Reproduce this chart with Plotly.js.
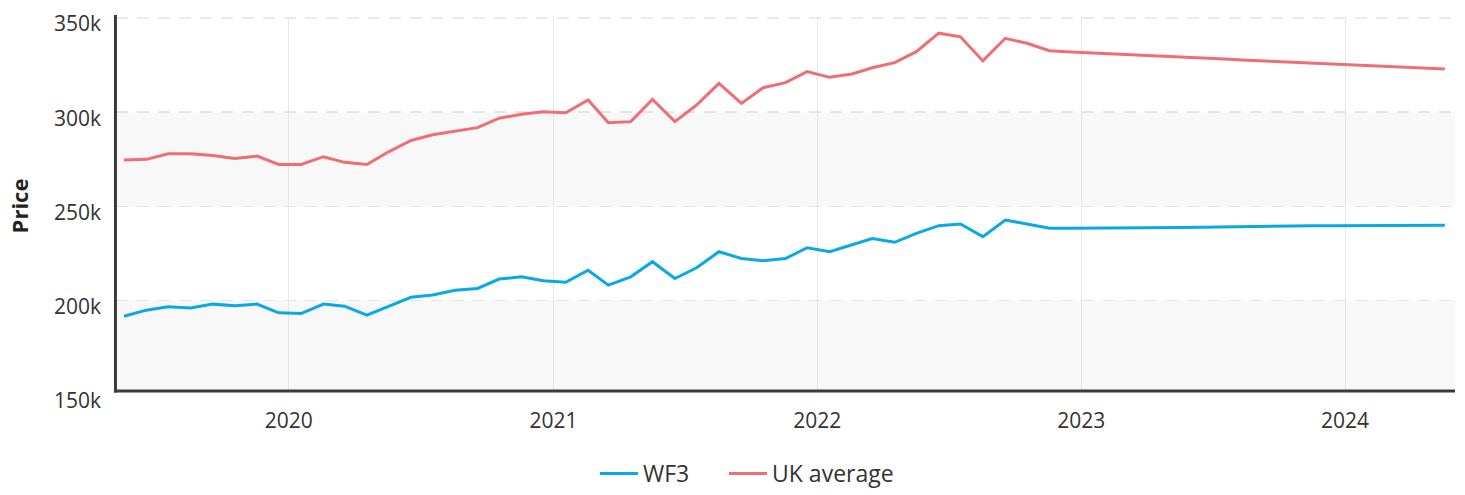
<!DOCTYPE html>
<html>
<head>
<meta charset="utf-8">
<script src="https://cdn.plot.ly/plotly-3.0.1.min.js"></script>
<style>html,body{margin:0;padding:0;background:#fff;}#chart{width:1465px;height:495px;}</style>
</head>
<body>
<div id="chart"></div>
<script>
var dates = [
  '2019-05-18','2019-06-18','2019-07-18','2019-08-18','2019-09-18','2019-10-18','2019-11-18','2019-12-18',
  '2020-01-18','2020-02-18','2020-03-18','2020-04-18','2020-05-18','2020-06-18','2020-07-18','2020-08-18','2020-09-18','2020-10-18','2020-11-18','2020-12-18',
  '2021-01-18','2021-02-18','2021-03-18','2021-04-18','2021-05-18','2021-06-18','2021-07-18','2021-08-18','2021-09-18','2021-10-18','2021-11-18','2021-12-18',
  '2022-01-18','2022-02-18','2022-03-18','2022-04-18','2022-05-18','2022-06-18','2022-07-18','2022-08-18','2022-09-18','2022-10-18','2022-11-18','2022-12-18',
  '2023-01-18','2023-02-18','2023-03-18','2023-04-18','2023-05-18','2023-06-18','2023-07-18','2023-08-18','2023-09-18','2023-10-18','2023-11-18','2023-12-18',
  '2024-01-18','2024-02-18','2024-03-18','2024-04-18','2024-05-18'
];

var wf3 = [
  191800,195000,196800,196200,198200,197300,198200,193600,
  193200,198200,197100,192400,197000,201800,203000,205600,206500,211500,212700,210600,
  209800,216200,208300,212700,220700,211800,217500,226000,222400,221200,222400,228100,
  226000,229500,233000,231000,235700,239800,240700,234000,242800,240700,238400,238400,
  238400,238400,238500,238600,238800,239000,239200,239400,239600,239700,239800,239800,
  239800,239900,239900,240000,240000
];

var ukAverage = [
  274600,275000,278000,278000,277000,275500,276700,272300,
  272300,276400,273400,272300,279000,285000,288000,290000,291800,296800,298900,300300,
  299700,306500,294400,295000,306800,295000,303800,315300,304700,313000,315700,321500,
  318500,320300,323600,326300,332100,341900,340000,327200,339200,336600,332600,332000,
  331500,331000,330400,329800,329300,328700,328200,327600,327100,326500,326000,325500,
  324900,324400,323900,323400,322900
];

var seriesNames = ['WF3', 'UK average'];
var yTickVals = [150000, 200000, 250000, 300000, 350000];
var yTickText = ['150k', '200k', '250k', '300k', '350k'];
var bandRanges = [[150000, 200000], [250000, 300000]];
var topGrid = 350000;

var font = 'Open Sans, sans-serif';

var traces = [
  {x: dates, y: wf3, name: seriesNames[0], type: 'scatter', mode: 'lines', legend: 'legend',
   line: {color: '#0aa8e6', width: 3}},
  {x: dates, y: ukAverage, name: seriesNames[1], type: 'scatter', mode: 'lines', legend: 'legend2',
   line: {color: '#ef6d75', width: 3}}
];

var shapes = bandRanges.map(function (b) {
  return {type: 'rect', xref: 'paper', yref: 'y', x0: 0, x1: 1, y0: b[0], y1: b[1],
          fillcolor: '#f8f8f8', line: {width: 0}, layer: 'below'};
});
// top dashed gridline
shapes.push({type: 'line', xref: 'paper', yref: 'y', x0: 0, x1: 1, y0: topGrid, y1: topGrid,
             line: {color: '#e4e4e4', width: 1.5, dash: '12px,9px'}, layer: 'below'});
// white cover below the x axis line
shapes.push({type: 'rect', xref: 'paper', yref: 'paper', x0: -0.002, x1: 1.002, y0: -0.03, y1: 0.0066,
             fillcolor: '#ffffff', line: {width: 0}, layer: 'above'});
// x axis line
shapes.push({type: 'line', xref: 'paper', yref: 'paper', x0: -0.0015, x1: 1, y0: 0.0106, y1: 0.0106,
             line: {color: '#3a3a3a', width: 3}, layer: 'above'});
// y axis line
shapes.push({type: 'line', xref: 'paper', yref: 'paper', x0: -0.0004, x1: -0.0004, y0: 0.0066, y1: 1.005,
             line: {color: '#3a3a3a', width: 3}, layer: 'above'});

var legendBase = {orientation: 'h', xanchor: 'left', yref: 'container', y: 0, yanchor: 'bottom',
                  itemwidth: 38, font: {family: font, size: 23, color: '#333333'}, bgcolor: 'rgba(0,0,0,0)'};

var layout = {
  width: 1465, height: 495,
  margin: {l: 116, r: 10, t: 17, b: 100, autoexpand: false},
  paper_bgcolor: '#ffffff', plot_bgcolor: '#ffffff',
  font: {family: font, color: '#333333'},
  showlegend: true,
  legend: Object.assign({}, legendBase, {x: 0.3577}),
  legend2: Object.assign({}, legendBase, {x: 0.4541}),
  xaxis: {
    type: 'date', range: ['2019-05-07', '2024-06-01'],
    tick0: '2020-01-01', dtick: 'M12', tickformat: '%Y',
    showgrid: true, gridcolor: '#e6e6e6', gridwidth: 1,
    showline: false, zeroline: false, ticks: '',
    ticklabelstandoff: 11,
    tickfont: {family: font, size: 21, color: '#333333'}
  },
  yaxis: {
    range: [150000, 350500], tickmode: 'array', tickvals: yTickVals, ticktext: yTickText,
    showgrid: true, gridcolor: '#e4e4e4', gridwidth: 1.5, griddash: '12px,9px',
    showline: false, zeroline: false, ticks: '',
    ticklabelstandoff: 14, ticklabelshift: 6,
    tickfont: {family: font, size: 21, color: '#333333'},
    title: {text: 'Price', standoff: 19, font: {family: font, size: 22, color: '#222222', weight: 700}}
  },
  shapes: shapes
};

Plotly.newPlot('chart', traces, layout, {staticPlot: true, displayModeBar: false});
</script>
</body>
</html>
